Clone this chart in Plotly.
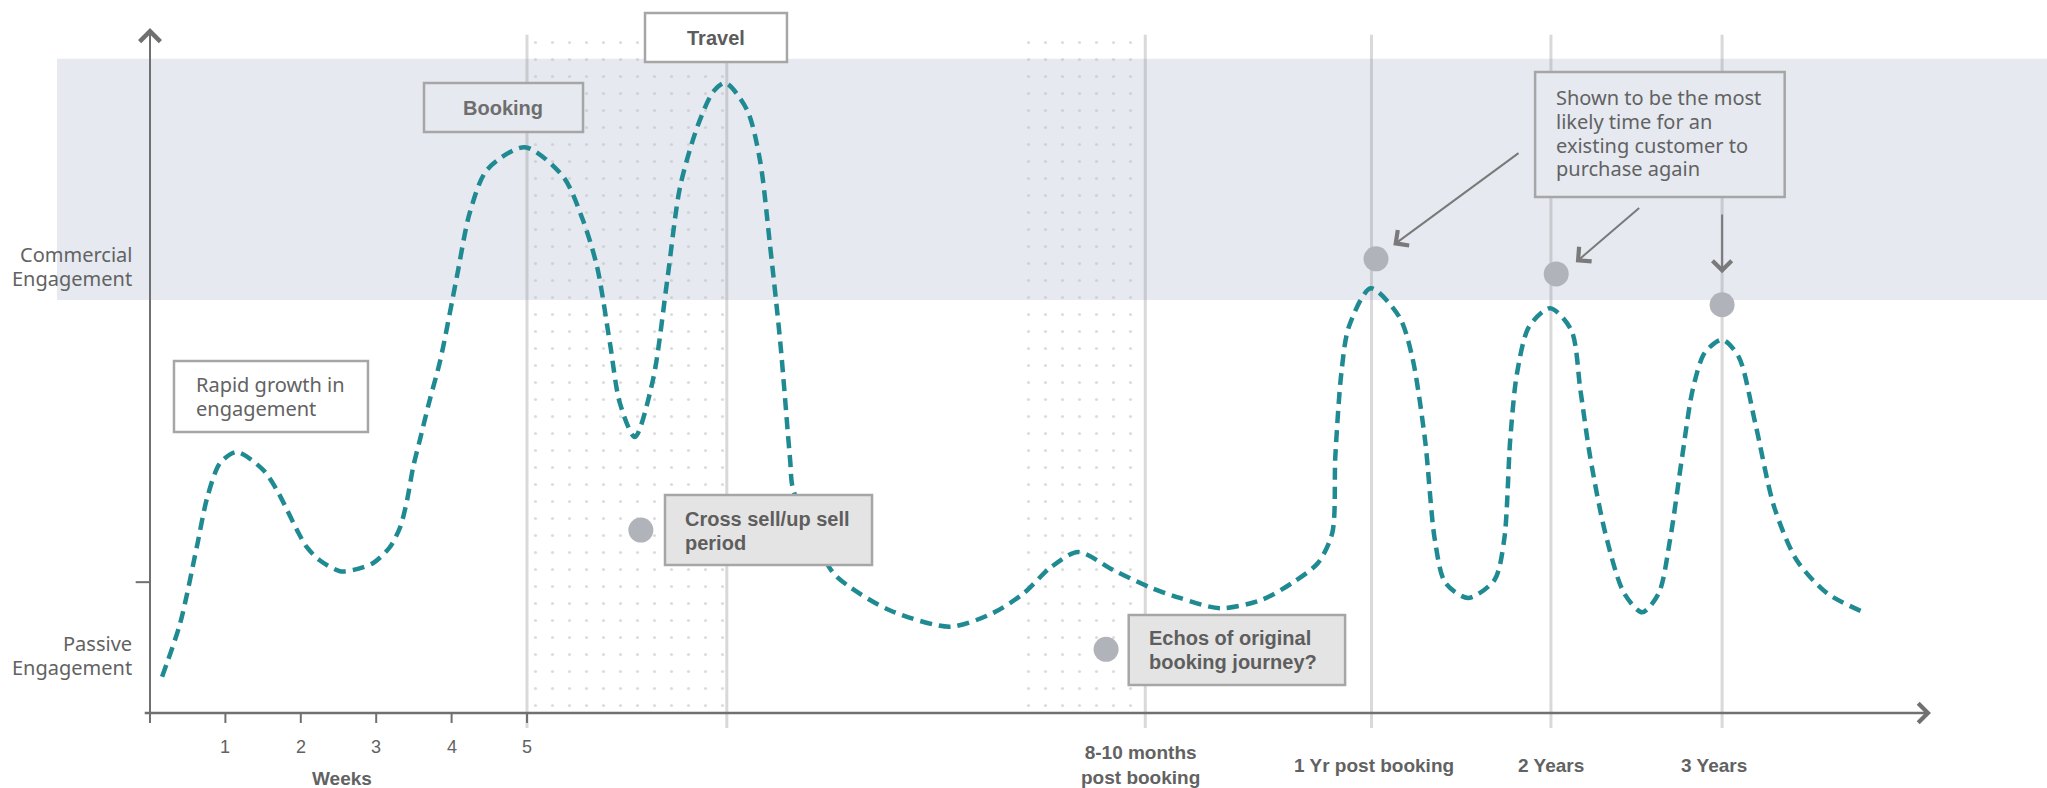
import plotly.graph_objects as go

# ---- data -------------------------------------------------------------
# Position along the timeline (1 unit = 1 week in the first section) and
# engagement level (0 = none, 100 = top of the scale) of the journey curve.
journey_x = [0.16, 0.40, 0.62, 0.76, 0.93, 1.15, 1.50, 1.68, 1.82, 1.95, 2.08, 2.25,
             2.52, 2.70, 2.96, 3.18, 3.32, 3.41, 3.49, 3.58, 3.71, 3.85, 4.07, 4.24, 4.47,
             4.97, 5.48, 5.74, 5.93, 6.10, 6.23,
             6.43, 6.67, 6.86, 7.03, 7.26, 7.47, 7.63, 7.92, 8.09, 8.22, 8.36, 8.49,
             8.53, 9.05, 9.28, 9.81, 10.61, 11.18, 11.59, 11.95, 12.31, 12.77, 13.25,
             13.66, 14.19, 14.74, 15.15, 15.49, 15.68, 15.72, 15.80, 15.90, 16.19,
             16.57, 16.74, 16.91, 17.04, 17.18, 17.48, 17.83, 17.96, 18.04, 18.13,
             18.29, 18.57, 18.85, 18.97, 19.10, 19.30, 19.55, 19.79, 20.01, 20.16,
             20.32, 20.46, 20.62, 20.85, 21.07, 21.29, 21.54, 21.84, 22.24, 22.73]
journey_y = [5.3, 13.1, 24.2, 31.5, 36.5, 38.1, 35.5, 32.6, 29.6, 26.7, 24.2, 22.3,
             20.7, 20.9, 21.9, 24.2, 27.2, 31.1, 35.9, 39.9, 45.7, 51.5, 63.7, 73.0, 79.3,
             82.6, 78.3, 72.0, 65.1, 54.0, 45.3,
             40.3, 48.6, 63.2, 76.8, 85.6, 90.7, 92.0, 88.0, 80.7, 68.6, 54.0, 36.9,
             32.6, 20.6, 18.4, 15.0, 12.6, 14.6, 17.5, 21.3, 23.5, 20.9, 18.4,
             16.8, 15.3, 16.5, 19.0, 21.9, 26.3, 37.4, 49.6, 56.4, 62.0,
             57.8, 52.0, 39.9, 25.3, 19.0, 16.8, 19.4, 25.3, 39.9, 49.6,
             56.4, 59.1, 55.9, 47.2, 37.4, 26.3, 17.5, 14.7, 17.5, 25.3,
             37.4, 47.2, 52.6, 54.5, 52.0, 42.3, 30.1, 22.3, 17.5, 14.7]

# Milestones: booking, travel, 8-10 months, 1 yr, 2 yrs, 3 yrs
milestone_x = [5.0, 7.65, 13.2, 16.2, 18.58, 20.85]

# Highlighted moments on the journey
point_x = [6.51, 12.68, 16.26, 18.65, 20.85]
point_y = [26.7, 9.3, 66.3, 64.1, 59.6]

week_ticks = [1, 2, 3, 4, 5]
week_labels = ["1", "2", "3", "4", "5"]

period_x = [13.14, 16.23, 18.58, 20.74]
period_labels = ["8-10 months<br>post booking", "1 Yr post booking", "2 Years", "3 Years"]

# Engagement zones
commercial_band = (60.3, 95.5)
passive_tick = 19.1

# ---- styling ----------------------------------------------------------
TEAL = "#1f8a92"
AXIS = "#707070"
BAND = "#e6e9f0"
BOX_LINE = "#a6a6a6"
TEXT = "#626262"
HUMAN = "Noto Sans, Lato, sans-serif"
ARIAL = "Liberation Sans, Arial, sans-serif"

X_RANGE = [-1.9894, 25.159]
Y_RANGE = [-10.949, 104.088]

fig = go.Figure()

# dotted texture over the booking-to-travel period and the echo period
for x0, x1 in [(5.0, 7.65), (11.5, 13.1)]:
    fig.add_trace(go.Scatter(
        x=[x0, x1, x1, x0, x0], y=[0, 0, 98.5, 98.5, 0],
        mode="none", fill="toself", fillcolor="rgba(0,0,0,0)",
        fillpattern=dict(shape=".", size=17, solidity=0.028,
                         fgcolor="#bababa", bgcolor="rgba(0,0,0,0)"),
        hoverinfo="skip"))

# journey curve
fig.add_trace(go.Scatter(
    x=journey_x, y=journey_y, mode="lines",
    line=dict(color=TEAL, width=4.5, dash="12px,7px", shape="spline", smoothing=0.8),
    hoverinfo="skip"))

# highlighted points
fig.add_trace(go.Scatter(
    x=point_x, y=point_y, mode="markers",
    marker=dict(size=25, color="#b0b3b9", line=dict(width=0)),
    hoverinfo="skip"))

shapes = []
# commercial engagement band
shapes.append(dict(type="rect", xref="x", yref="y", layer="below",
                   x0=-1.233, x1=X_RANGE[1] + 1, y0=commercial_band[0], y1=commercial_band[1],
                   fillcolor=BAND, line=dict(width=0)))
# milestone guide lines
for mx in milestone_x:
    shapes.append(dict(type="line", xref="x", yref="y", layer="below",
                       x0=mx, x1=mx, y0=-2.2, y1=99.0,
                       line=dict(color="rgba(140,140,140,0.33)", width=3)))
# week tick marks
for wx in [0] + week_ticks:
    shapes.append(dict(type="line", xref="x", yref="y", layer="below",
                       x0=wx, x1=wx, y0=0, y1=-1.46,
                       line=dict(color=AXIS, width=2)))
# passive engagement tick on the y axis
shapes.append(dict(type="line", xref="x", yref="y", layer="below",
                   x0=-0.19, x1=0, y0=passive_tick, y1=passive_tick,
                   line=dict(color=AXIS, width=2)))


def box(x0, x1, y0, y1, fill):
    shapes.append(dict(type="rect", xref="x", yref="y", layer="above",
                       x0=x0, x1=x1, y0=y0, y1=y1, fillcolor=fill,
                       line=dict(color=BOX_LINE, width=2.5)))


box(3.634, 5.743, 84.82, 91.97, BAND)        # Booking
box(6.565, 8.448, 95.04, 102.19, "white")    # Travel
box(0.318, 2.891, 41.02, 51.39, "white")     # Rapid growth
box(6.830, 9.576, 21.61, 31.82, "#e4e4e4")   # Cross sell
box(12.98, 15.85, 4.09, 14.31, "#e4e4e4")    # Echos
box(18.37, 21.68, 75.33, 93.58, BAND)        # Most likely time

annotations = []


def label(x, y, text, size=20, color=TEXT, family=HUMAN, xanchor="center"):
    annotations.append(dict(x=x, y=y, xref="x", yref="y", text=text, showarrow=False,
                            xanchor=xanchor, yanchor="middle",
                            align=xanchor if xanchor != "center" else "center",
                            font=dict(size=size, color=color, family=family)))


def arrow(x, y, ax, ay, width=2, size=1.85, color="#7a7a7a"):
    annotations.append(dict(x=x, y=y, ax=ax, ay=ay, xref="x", yref="y", axref="x", ayref="y",
                            text="", showarrow=True, arrowhead=4, arrowwidth=width,
                            arrowsize=size, arrowcolor=color, standoff=0))


# axes drawn as arrows
arrow(23.62, 0, -0.09, 0, width=2.5, size=1.5, color=AXIS)
arrow(0, 100, 0, -1.4, width=2, size=2.0, color=AXIS)

# y axis zone labels
label(-0.21, 66.9, "Commercial", xanchor="right")
label(-0.21, 63.5, "Engagement", xanchor="right")
label(-0.21, 10.1, "Passive", xanchor="right")
label(-0.21, 6.6, "Engagement", xanchor="right")

# x axis labels
for wx, wl in zip(week_ticks, week_labels):
    label(wx, -4.96, wl, size=18, family=ARIAL)
label(2.55, -9.5, "<b>Weeks</b>", size=19, family=ARIAL)
for px_, pl in zip(period_x, period_labels):
    label(px_, -7.6, "<b>" + pl + "</b>", size=19, family=ARIAL)

# box texts
label(4.68, 88.3, "<b>Booking</b>", size=20, color="#6e6e6e", family=ARIAL)
label(7.51, 98.5, "<b>Travel</b>", size=20, color="#5c5c5c", family=ARIAL)
label(0.58, 47.9, "Rapid growth in", xanchor="left")
label(0.58, 44.4, "engagement", xanchor="left")
label(7.07, 28.3, "<b>Cross sell/up sell</b>", color="#5e5e5e", family=ARIAL, xanchor="left")
label(7.07, 24.8, "<b>period</b>", color="#5e5e5e", family=ARIAL, xanchor="left")
label(13.22, 10.95, "<b>Echos of original</b>", color="#5e5e5e", family=ARIAL, xanchor="left")
label(13.22, 7.45, "<b>booking journey?</b>", color="#5e5e5e", family=ARIAL, xanchor="left")
for yy, line in zip([89.8, 86.3, 82.9, 79.5],
                    ["Shown to be the most", "likely time for an",
                     "existing customer to", "purchase again"]):
    label(18.62, yy, line, xanchor="left")

# pointers to the repeat-purchase moments
arrow(16.49, 68.3, 18.17, 81.9)
arrow(18.91, 65.8, 19.77, 73.9)
arrow(20.85, 64.2, 20.85, 73.0)

fig.update_layout(
    width=2047, height=788, margin=dict(l=0, r=0, t=0, b=0),
    paper_bgcolor="white", plot_bgcolor="white", showlegend=False,
    xaxis=dict(range=X_RANGE, visible=False, fixedrange=True),
    yaxis=dict(range=Y_RANGE, visible=False, fixedrange=True),
    shapes=shapes, annotations=annotations,
)

fig.write_html("out.html")
